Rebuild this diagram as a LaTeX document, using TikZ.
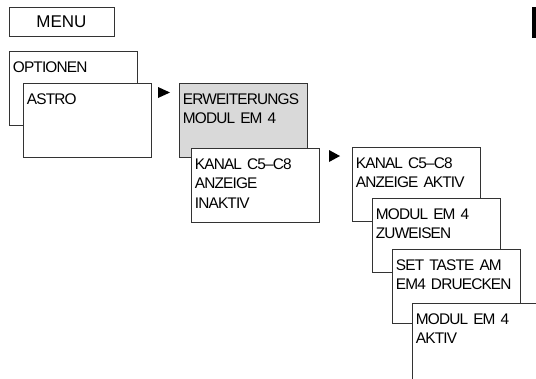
\documentclass[tikz,border=0pt]{standalone}
\usepackage{fontspec}
\setmainfont[LetterSpace=-5.5,WordSpace=0.7]{Liberation Sans}
\newfontfamily\menufont{Liberation Sans}

\begin{document}
\begin{tikzpicture}[x=1pt,y=-1pt,
  frame/.style={draw=black!80,line width=0.8pt,fill=white},
  menubox/.style={frame,minimum width=105pt,minimum height=29pt,inner sep=0pt,font=\menufont\fontsize{17}{20}\selectfont},
  screen/.style={frame,anchor=north west,inner xsep=3.5pt,inner ysep=0pt,text width=120.5pt,align=left,
    text height=21pt,text depth=53pt,font=\fontsize{15.4}{19.5}\selectfont},
  grey/.style={fill=black!15}]
  \useasboundingbox (0,0) rectangle (536,378);
  \clip (0,0) rectangle (536,378);
  \node (menu) at (61.5,22) [menubox] {MENU};
  \node (opt) at (9,51) [screen] {OPTIONEN};
  \node (astro) at (23,83) [screen] {ASTRO};
  \node (erw) at (179,83) [screen,grey] {ERWEITERUNGS\\MODUL EM 4};
  \node (inaktiv) at (191,148) [screen] {KANAL C5–C8\\ANZEIGE\\INAKTIV};
  \node (aktiv) at (352,147) [screen] {KANAL C5–C8\\ANZEIGE AKTIV};
  \node (zuw) at (372,198) [screen] {MODUL EM 4\\ZUWEISEN};
  \node (taste) at (392,249) [screen] {SET TASTE AM\\EM4 DRUECKEN};
  \node (em4) at (412,303) [screen,text depth=70pt] {MODUL EM 4\\AKTIV};
  % markers
  \fill (158,87) -- (170,92.5) -- (158,98) -- cycle;
  \fill (329,150) -- (340,156) -- (329,162) -- cycle;
  \fill (532,7) rectangle (536,38);
\end{tikzpicture}
\end{document}
